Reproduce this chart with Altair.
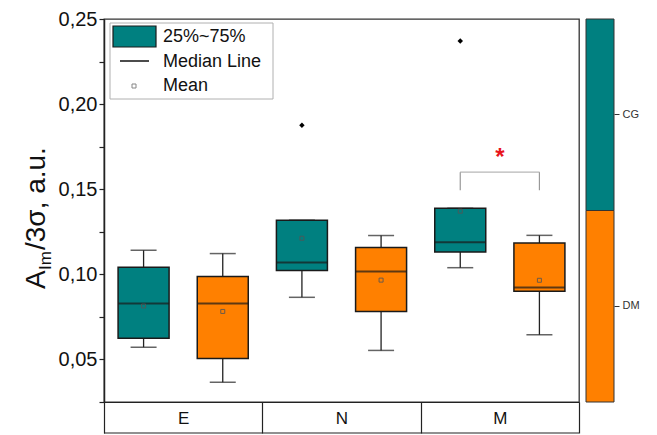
import altair as alt
import pandas as pd

# ---- data ----
categories = ["E", "E", "N", "N", "M", "M"]
groups = ["CG", "DM", "CG", "DM", "CG", "DM"]
whisker_low = [0.0572, 0.0366, 0.0865, 0.0553, 0.1039, 0.0645]
q1_vals = [0.0625, 0.0506, 0.1022, 0.0781, 0.1131, 0.0900]
median_vals = [0.0829, 0.0829, 0.1069, 0.1016, 0.1188, 0.0922]
q3_vals = [0.1041, 0.0988, 0.1318, 0.1157, 0.1388, 0.1184]
whisker_high = [0.1141, 0.1122, 0.1318, 0.1228, 0.1388, 0.1229]
mean_vals = [0.0814, 0.0782, 0.1212, 0.0966, 0.1371, 0.0965]

outlier_cat = ["N", "M"]
outlier_grp = ["CG", "CG"]
outlier_val = [0.1876, 0.2371]

sig_cat = ["M"]
sig_low = [0.1494]
sig_high = [0.1600]
sig_star = [0.1685]

cat_order = ["E", "N", "M"]
grp_order = ["CG", "DM"]
grp_colors = ["#008080", "#FF8000"]
y_ticks = [0.025, 0.05, 0.075, 0.10, 0.125, 0.15, 0.175, 0.20, 0.225, 0.25]

FONT = "Liberation Sans"
W, H = 475, 383

df = pd.DataFrame({
    "cat": categories, "grp": groups, "low": whisker_low, "q1": q1_vals,
    "med": median_vals, "q3": q3_vals, "high": whisker_high, "mean": mean_vals,
})
out_df = pd.DataFrame({"cat": outlier_cat, "grp": outlier_grp, "v": outlier_val})
sig_legs = pd.DataFrame({"cat": sig_cat * 2, "grp": grp_order,
                         "lo": sig_low * 2, "hi": sig_high * 2})
sig_top = pd.DataFrame({"cat": sig_cat, "hi": sig_high, "star": sig_star})
one = pd.DataFrame({"k": [0]})

xscale = alt.Scale(domain=cat_order, paddingInner=0, paddingOuter=0)
xoff = alt.XOffset("grp:N", scale=alt.Scale(domain=grp_order, paddingInner=0, paddingOuter=0))
yscale = alt.Scale(domain=[0.025, 0.25], nice=False, zero=False)
color = alt.Color("grp:N", scale=alt.Scale(domain=grp_order, range=grp_colors), legend=None)

X = alt.X("cat:N", scale=xscale, sort=cat_order, title=None,
          axis=alt.Axis(labelAngle=0, tickBand="extent", tickSize=31, tickColor="#222",
                        tickWidth=1.2, domainColor="#222", domainWidth=1.2,
                        labelFontSize=17, labelFont=FONT, labelColor="#111",
                        labelBaseline="middle", labelPadding=-15))
Y = alt.Y("q1:Q", scale=yscale, title=None,
          axis=alt.Axis(values=y_ticks, tickSize=5, tickColor="#222", tickWidth=1.2,
                        domainColor="#222", domainWidth=1.5, grid=False,
                        labelFontSize=20, labelFont=FONT, labelColor="#111", labelPadding=2,
                        labelExpr="abs(round(datum.value*1000) % 50) < 1 ? replace(format(datum.value, '.2f'), '.', ',') : ''"))

base = alt.Chart(df)

whisk_lo = base.mark_rule(color="#222", strokeWidth=1.3).encode(x=X, xOffset=xoff, y=alt.Y("low:Q", scale=yscale), y2="q1:Q")
whisk_hi = base.mark_rule(color="#222", strokeWidth=1.3).encode(x=X, xOffset=xoff, y=alt.Y("q3:Q", scale=yscale), y2="high:Q")
cap_lo = base.mark_tick(color="#222", size=26, thickness=1.5).encode(x=X, xOffset=xoff, y=alt.Y("low:Q", scale=yscale))
cap_hi = base.mark_tick(color="#222", size=26, thickness=1.5).encode(x=X, xOffset=xoff, y=alt.Y("high:Q", scale=yscale))
boxes = base.mark_bar(size=51, stroke="#1a1a1a", strokeWidth=1.5, opacity=1).encode(
    x=X, xOffset=xoff, y=Y, y2="q3:Q", color=color)
medians = base.mark_tick(color="#1a1a1a", size=51, thickness=2).encode(
    x=X, xOffset=xoff, y=alt.Y("med:Q", scale=yscale))
means = base.mark_point(shape="square", size=16, filled=False, color="#555", strokeWidth=1, opacity=0.85).encode(
    x=X, xOffset=xoff, y=alt.Y("mean:Q", scale=yscale))
outliers = alt.Chart(out_df).mark_point(shape="diamond", size=30, filled=True, color="#000", opacity=1).encode(
    x=X, xOffset=xoff, y=alt.Y("v:Q", scale=yscale))
legs = alt.Chart(sig_legs).mark_rule(color="#999", strokeWidth=1.2).encode(
    x=X, xOffset=xoff, y=alt.Y("lo:Q", scale=yscale), y2="hi:Q")
bar_top = alt.Chart(sig_top).mark_tick(color="#999", size=79.5, thickness=1.2).encode(
    x=X, y=alt.Y("hi:Q", scale=yscale))
star = alt.Chart(sig_top).mark_text(text="*", color="#e8141c", fontSize=24, font=FONT,
                                    fontWeight="bold", baseline="middle").encode(
    x=X, y=alt.Y("star:Q", scale=yscale))

# table bottom line
table_bottom = alt.Chart(one).mark_rule(color="#222", strokeWidth=1.2).encode(
    x=alt.value(0), x2=alt.value(W), y=alt.value(H + 31))

# legend
leg_frame = alt.Chart(one).mark_rect(fill="white", stroke="#b0b0b0", strokeWidth=1).encode(
    x=alt.value(6), x2=alt.value(169), y=alt.value(4), y2=alt.value(80))
leg_sw = alt.Chart(one).mark_rect(fill=grp_colors[0], stroke="#1a1a1a", strokeWidth=1.2).encode(
    x=alt.value(9), x2=alt.value(52), y=alt.value(7), y2=alt.value(28))
leg_line = alt.Chart(one).mark_rule(color="#111", strokeWidth=1.5).encode(
    x=alt.value(16), x2=alt.value(45), y=alt.value(42))
leg_pt = alt.Chart(one).mark_point(shape="square", size=16, filled=False, color="#555", strokeWidth=1).encode(
    x=alt.value(30), y=alt.value(67))
leg_texts = []
for txt, yy in [("25%~75%", 18), ("Median Line", 43), ("Mean", 67)]:
    leg_texts.append(alt.Chart(one).mark_text(text=txt, align="left", baseline="middle",
                                              fontSize=18, font=FONT, color="#111").encode(
        x=alt.value(59), y=alt.value(yy)))

# y title with subscript
t_main1 = alt.Chart(one).mark_text(text="A", angle=270, align="left", baseline="alphabetic",
                                   fontSize=28, font=FONT, color="#111").encode(x=alt.value(-59), y=alt.value(270))
t_sub = alt.Chart(one).mark_text(text="Im", angle=270, align="left", baseline="alphabetic",
                                 fontSize=17, font=FONT, color="#111").encode(x=alt.value(-53), y=alt.value(251))
t_main2 = alt.Chart(one).mark_text(text="/3σ, a.u.", angle=270, align="left", baseline="alphabetic",
                                   fontSize=28, font=FONT, color="#111").encode(x=alt.value(-59), y=alt.value(231))

main = alt.layer(
    whisk_lo, whisk_hi, cap_lo, cap_hi, boxes, medians, means, outliers,
    legs, bar_top, star, table_bottom,
    leg_frame, leg_sw, leg_line, leg_pt, *leg_texts,
    t_main1, t_sub, t_main2,
)

cb_df = pd.DataFrame({"grp": grp_order})
colorbar = alt.Chart(cb_df).mark_rect(stroke="#333", strokeWidth=1).encode(
    x=alt.value(W + 7), x2=alt.value(W + 35),
    y=alt.Y("grp:N", sort=grp_order, title=None,
            scale=alt.Scale(domain=grp_order, paddingInner=0, paddingOuter=0),
            axis=alt.Axis(orient="right", offset=35, domain=False, tickSize=5, tickColor="#333",
                          labelFontSize=11, labelFont=FONT, labelColor="#333", labelPadding=3)),
    color=color,
)

chart = alt.layer(main, colorbar).resolve_scale(y="independent").properties(
    width=W, height=H,
    autosize=alt.AutoSizeParams(type="none"),
    padding={"left": 96, "top": 11, "right": 70, "bottom": 33},
).configure_view(stroke="#333", strokeWidth=1.3)

chart.save("out.html", embed_options={"renderer": "svg", "actions": False})
